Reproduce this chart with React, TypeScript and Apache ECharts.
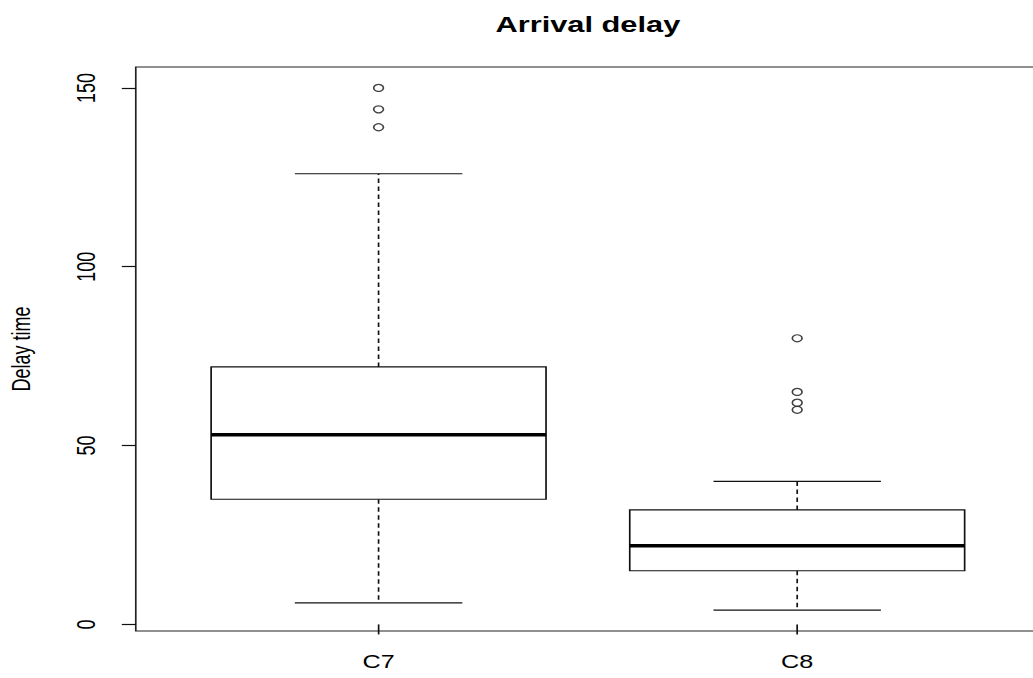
import React, { useEffect, useRef } from "react";
import * as echarts from "echarts";

const categories = ["C7", "C8"];
const whiskerLow = [6, 4];
const q1 = [35, 15];
const median = [53, 22];
const q3 = [72, 32];
const whiskerHigh = [126, 40];
const outliersC7 = [139, 144, 150];
const outliersC8 = [60, 62, 65, 80];
const yTicks = [0, 50, 100, 150];

const INNER_W = 738;
const OUTER_W = 1033;
const H = 678;
const FONT = '"Liberation Sans", Arial, sans-serif';

export default function App() {
  const ref = useRef<HTMLDivElement>(null);
  useEffect(() => {
    if (!ref.current) return;
    const chart = echarts.init(ref.current, undefined, { renderer: "svg" });
    const boxData = categories.map((_, i) => [
      i + 1,
      whiskerLow[i],
      q1[i],
      median[i],
      q3[i],
      whiskerHigh[i],
    ]);
    const outlierData: number[][] = [];
    outliersC7.forEach((v) => outlierData.push([1, v]));
    outliersC8.forEach((v) => outlierData.push([2, v]));

    const lineStyle = { stroke: "#111", lineWidth: 1.2 };

    chart.setOption({
      animation: false,
      backgroundColor: "#fff",
      grid: {
        left: 97,
        top: 67,
        width: 646,
        height: 564,
        show: true,
        borderColor: "#222",
        borderWidth: 1.2,
        backgroundColor: "transparent",
        outerBoundsMode: "none",
        containLabel: false,
      },
      graphic: [
        {
          type: "text",
          x: 420,
          y: 25,
          style: {
            text: "Arrival delay",
            fontSize: 22,
            fontWeight: "bold",
            fontFamily: FONT,
            fill: "#000",
            align: "center",
            verticalAlign: "middle",
          },
        },
      ],
      xAxis: {
        type: "value",
        min: 0.42,
        max: 2.58,
        splitLine: { show: false },
        axisLine: { show: false },
        axisTick: {
          show: true,
          customValues: [1, 2],
          length: 10,
          lineStyle: { color: "#111", width: 1.2 },
        },
        axisLabel: {
          customValues: [1, 2],
          formatter: (v: number) => categories[Math.round(v) - 1] ?? "",
          fontSize: 18,
          fontFamily: FONT,
          color: "#000",
          margin: 22,
        },
      },
      yAxis: {
        type: "value",
        min: -1.84,
        max: 155.84,
        name: "Delay time",
        nameLocation: "middle",
        nameRotate: 90,
        nameGap: 73,
        nameTextStyle: { fontSize: 18, fontFamily: FONT, color: "#000" },
        splitLine: { show: false },
        axisLine: { show: false },
        axisTick: {
          show: true,
          customValues: yTicks,
          length: 10,
          lineStyle: { color: "#111", width: 1.2 },
        },
        axisLabel: {
          customValues: yTicks,
          rotate: 90,
          fontSize: 18,
          fontFamily: FONT,
          color: "#000",
          margin: 26,
        },
      },
      series: [
        {
          type: "custom",
          data: boxData,
          encode: { x: 0, y: [1, 2, 3, 4, 5] },
          renderItem: (params: any, api: any) => {
            const x = api.value(0);
            const pLo = api.coord([x, api.value(1)]);
            const pQ1 = api.coord([x, api.value(2)]);
            const pMed = api.coord([x, api.value(3)]);
            const pQ3 = api.coord([x, api.value(4)]);
            const pHi = api.coord([x, api.value(5)]);
            const half = api.size([0.8, 0])[0] / 2;
            const cap = half / 2;
            const cx = pMed[0];
            return {
              type: "group",
              children: [
                {
                  type: "line",
                  shape: { x1: cx, y1: pQ3[1], x2: cx, y2: pHi[1] },
                  style: { ...lineStyle, lineDash: [4.5, 3.5] },
                },
                {
                  type: "line",
                  shape: { x1: cx, y1: pQ1[1], x2: cx, y2: pLo[1] },
                  style: { ...lineStyle, lineDash: [4.5, 3.5] },
                },
                {
                  type: "line",
                  shape: { x1: cx - cap, y1: pHi[1], x2: cx + cap, y2: pHi[1] },
                  style: lineStyle,
                },
                {
                  type: "line",
                  shape: { x1: cx - cap, y1: pLo[1], x2: cx + cap, y2: pLo[1] },
                  style: lineStyle,
                },
                {
                  type: "rect",
                  shape: {
                    x: cx - half,
                    y: pQ3[1],
                    width: half * 2,
                    height: pQ1[1] - pQ3[1],
                  },
                  style: { ...lineStyle, fill: "#fff" },
                },
                {
                  type: "line",
                  shape: { x1: cx - half, y1: pMed[1], x2: cx + half, y2: pMed[1] },
                  style: { stroke: "#000", lineWidth: 3.5 },
                },
              ],
            };
          },
        },
        {
          type: "scatter",
          data: outlierData,
          symbol: "circle",
          symbolSize: 7,
          itemStyle: { color: "#fff", borderColor: "#111", borderWidth: 1.2 },
        },
      ],
    });
    return () => chart.dispose();
  }, []);

  return (
    <div
      style={{
        position: "fixed",
        left: 0,
        top: 0,
        width: OUTER_W,
        height: H,
        overflow: "hidden",
        background: "#fff",
      }}
    >
      <div
        ref={ref}
        style={{
          width: INNER_W,
          height: H,
          transform: `scaleX(${OUTER_W / INNER_W})`,
          transformOrigin: "0 0",
        }}
      />
    </div>
  );
}
